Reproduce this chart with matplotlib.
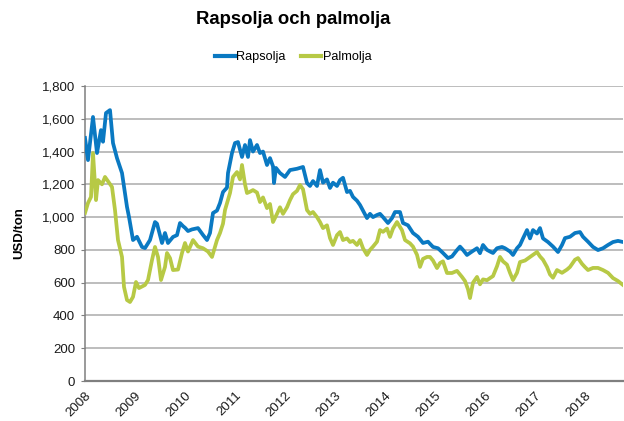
import matplotlib
matplotlib.use("Agg")
import matplotlib.pyplot as plt
import numpy as np
from matplotlib.lines import Line2D

plt.rcParams['font.family'] = ['Liberation Sans', 'DejaVu Sans']

# Data: (pixel-x converted to decimal year, USD/ton)
rapsolja_x = [85, 88, 93, 97, 101, 103, 106, 110, 113, 117, 122, 127, 129, 133, 137, 142, 145, 150, 155, 157,
              162, 165, 168, 173, 177, 180, 183, 185, 188, 192, 198, 203, 207, 210, 213, 217, 220, 223, 227, 228,
              232, 235, 238, 242, 245, 248, 250, 253, 257, 260, 263, 267, 270, 273, 274, 276, 280, 285, 290, 297,
              303, 307, 310, 313, 317, 320, 323, 327, 330, 333, 337, 340, 343, 347, 350, 353, 357, 360, 363, 367,
              370, 373, 377, 380, 383, 388, 392, 395, 400, 403, 408, 413, 418, 423, 428, 433, 438, 443, 448, 452,
              457, 460, 463, 467, 472, 477, 480, 483, 487, 490, 493, 497, 502, 505, 510, 513, 517, 520, 523, 527,
              530, 533, 537, 540, 543, 548, 553, 558, 562, 565, 570, 575, 580, 583, 588, 593, 598, 603, 608, 613,
              618, 623]
rapsolja_v = [1483, 1348, 1611, 1391, 1531, 1460, 1635, 1653, 1452, 1360, 1269, 1062, 1001, 860, 880, 818, 811, 860, 970, 960,
              842, 903, 842, 879, 890, 964, 945, 935, 915, 925, 933, 891, 860, 903, 1025, 1040, 1086, 1153, 1180, 1269,
              1391, 1452, 1458, 1367, 1440, 1367, 1470, 1400, 1440, 1391, 1400, 1318, 1360, 1310, 1208, 1300, 1269, 1245, 1287, 1295,
              1306, 1208, 1190, 1220, 1190, 1287, 1210, 1230, 1178, 1210, 1190, 1226, 1240, 1153, 1160, 1123, 1100, 1074, 1040, 994,
              1020, 1000, 1013, 1020, 1000, 964, 994, 1031, 1031, 964, 950, 903, 880, 842, 850, 818, 810, 781, 750, 760,
              799, 820, 800, 769, 790, 810, 780, 830, 800, 790, 781, 810, 818, 810, 790, 769, 810, 830, 870, 921,
              870, 921, 900, 933, 870, 848, 820, 787, 830, 872, 880, 903, 909, 880, 850, 818, 799, 810, 830, 848,
              855, 848]

palmolja_x = [85, 88, 91, 93, 96, 98, 102, 105, 109, 112, 115, 118, 122, 124, 127, 130, 133, 136, 139, 145,
              148, 152, 155, 158, 161, 165, 167, 170, 173, 178, 182, 185, 188, 193, 198, 203, 208, 212, 217, 220,
              223, 225, 230, 233, 237, 240, 242, 245, 247, 250, 253, 257, 260, 263, 267, 270, 273, 277, 280, 283,
              287, 290, 293, 297, 300, 303, 307, 310, 313, 317, 320, 323, 327, 330, 333, 337, 340, 343, 347, 350,
              353, 357, 360, 363, 367, 370, 373, 377, 380, 383, 387, 390, 393, 397, 402, 405, 410, 413, 417, 420,
              423, 427, 430, 433, 437, 440, 443, 447, 452, 457, 462, 465, 468, 470, 473, 477, 480, 483, 487, 490,
              493, 497, 500, 503, 507, 510, 513, 517, 520, 525, 530, 533, 537, 540, 543, 547, 550, 553, 557, 562,
              567, 570, 575, 578, 582, 585, 588, 593, 598, 603, 608, 613, 618, 623]
palmolja_v = [1025, 1086, 1123, 1391, 1104, 1226, 1200, 1245, 1210, 1184, 1043, 860, 757, 574, 494, 482, 513, 604, 567, 586,
              616, 738, 818, 757, 616, 696, 781, 750, 677, 680, 781, 842, 790, 860, 820, 810, 790, 757, 860, 903,
              960, 1043, 1147, 1245, 1275, 1230, 1318, 1200, 1147, 1155, 1165, 1150, 1092, 1120, 1055, 1080, 970, 1020, 1060, 1020,
              1060, 1104, 1140, 1160, 1196, 1170, 1043, 1020, 1031, 1000, 970, 933, 950, 872, 830, 890, 909, 860, 870, 848,
              855, 830, 860, 810, 769, 800, 820, 850, 921, 910, 930, 879, 930, 970, 920, 860, 840, 820, 770, 696,
              745, 757, 757, 735, 689, 720, 730, 659, 659, 672, 635, 610, 560, 506, 600, 635, 590, 620, 615, 628,
              640, 700, 757, 730, 710, 660, 616, 660, 726, 735, 757, 770, 787, 760, 740, 696, 650, 630, 677, 660,
              680, 696, 740, 750, 715, 695, 677, 690, 690, 677, 660, 628, 610, 586]

year_ticks = [2008, 2009, 2010, 2011, 2012, 2013, 2014, 2015, 2016, 2017, 2018]
y_ticks = [0, 200, 400, 600, 800, 1000, 1200, 1400, 1600, 1800]

def px_to_year(xs):
    return 2008 + (np.asarray(xs, dtype=float) - 85) / 50.0

W, H = 624, 421
fig = plt.figure(figsize=(W / 100, H / 100), dpi=100)
ax = fig.add_axes([85 / W, (H - 381) / H, (623 - 85) / W, (381 - 86) / H])

blue = '#0A79C2'
green = '#B7C945'
ax.plot(px_to_year(rapsolja_x), rapsolja_v, color=blue, lw=2.7, solid_joinstyle='round', zorder=3)
ax.plot(px_to_year(palmolja_x), palmolja_v, color=green, lw=2.7, solid_joinstyle='round', zorder=3)

ax.set_xlim(2008, 2008 + (623 - 85) / 50.0)
ax.set_ylim(0, 1800)
ax.set_yticks(y_ticks)
ax.set_yticklabels([f"{v:,}" for v in y_ticks])
ax.set_xticks(year_ticks)
ax.set_xticklabels([str(y) for y in year_ticks], rotation=45, ha='right', rotation_mode='anchor')

ax.grid(axis='y', color='#ABABAB', lw=1.1)
ax.set_axisbelow(True)
for s in ['top', 'right']:
    ax.spines[s].set_visible(False)
ax.spines['left'].set_color('#7F7F7F')
ax.spines['left'].set_linewidth(1.1)
ax.spines['bottom'].set_color('#7F7F7F')
ax.spines['bottom'].set_linewidth(1.6)
ax.tick_params(axis='y', length=3, color='#7F7F7F', labelsize=9.5, pad=4, labelcolor='#1A1A1A')
ax.tick_params(axis='x', length=0, labelsize=9.5, pad=6, labelcolor='#1A1A1A')

ax.set_ylabel('USD/ton', fontsize=9.5, fontweight='bold', labelpad=12)

fig.text(293 / W, 1 - 20 / H, 'Rapsolja och palmolja', ha='center', va='center',
         fontsize=13.3, fontweight='bold')

handles = [Line2D([], [], color=blue, lw=3), Line2D([], [], color=green, lw=3)]
fig.legend(handles, ['Rapsolja', 'Palmolja'], loc='center', bbox_to_anchor=(293 / W, 1 - 57 / H),
           ncol=2, frameon=False, fontsize=9.2, handlelength=1.6, handletextpad=0.1, columnspacing=1.2)

fig.savefig('out.png', dpi=100)
